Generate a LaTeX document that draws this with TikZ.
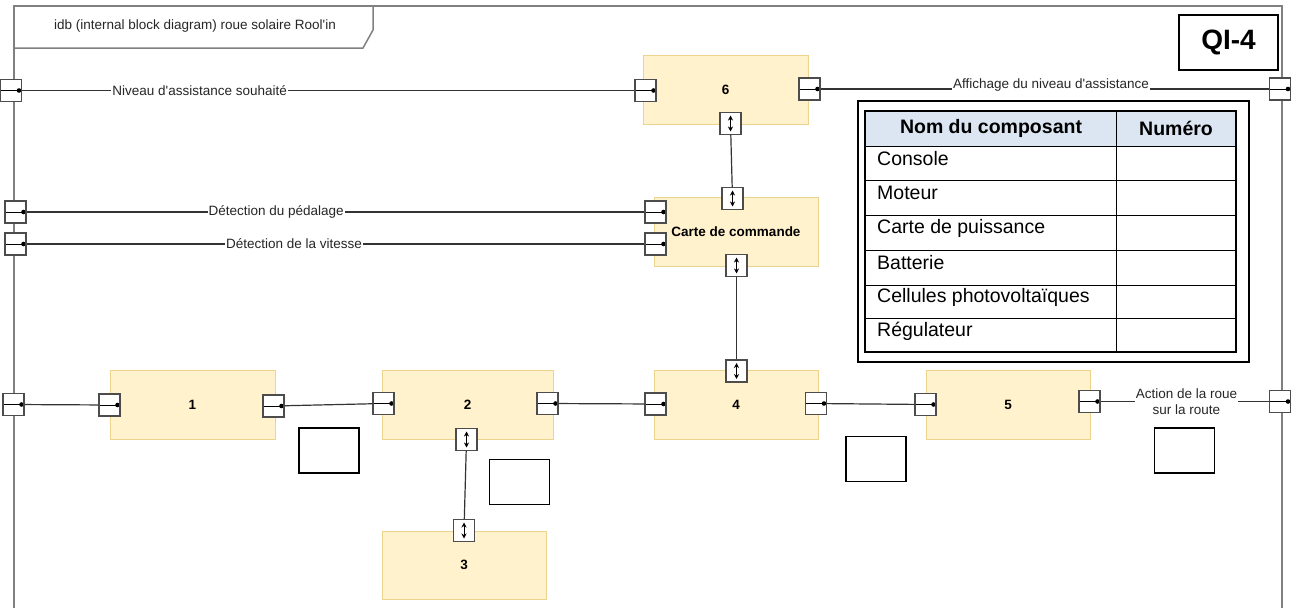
\documentclass[tikz,border=0pt]{standalone}
\usepackage{fontspec}
\setmainfont{Liberation Sans}[Ligatures=TeXOff]
\usepackage{tikz}
\usetikzlibrary{arrows.meta}
\definecolor{jaune}{HTML}{FFF2CC}
\definecolor{jauneb}{HTML}{EDD48E}
\definecolor{bleut}{HTML}{DCE6F2}

\tikzset{
  cadre/.style={draw=black!50, line width=1.5pt},
  bloc/.style={draw=jauneb, fill=jaune, line width=1pt, minimum width=165pt, minimum height=69pt,
    inner sep=0pt, font=\fontsize{13.5}{16}\selectfont\bfseries},
  portbase/.style={draw=black!70, fill=white, line width=1.2pt, minimum width=21pt, minimum height=22pt, inner sep=0pt},
  porth/.style={portbase, path picture={
    \draw[black, line width=.8pt] (path picture bounding box.west) -- (path picture bounding box.east);
    \fill[black] ([xshift=-2.5pt]path picture bounding box.east) circle (2.3pt);}},
  portv/.style={portbase, path picture={
    \draw[black, line width=.9pt, {Stealth[length=5pt, width=5pt]}-{Stealth[length=5pt, width=5pt]}]
      ([yshift=-3pt]path picture bounding box.north) -- ([yshift=3pt]path picture bounding box.south);}},
  fil/.style={draw=black!80, line width=1.2pt},
  lbl/.style={fill=white, inner sep=1pt, text=black!85, font=\fontsize{13.5}{16}\selectfont},
  vide/.style={draw=black, line width=1.2pt, minimum width=60pt, minimum height=45pt, inner sep=0pt},
  tabtxt/.style={font=\fontsize{19.5}{23}\selectfont, inner sep=0pt},
}

\begin{document}
\begin{tikzpicture}[x=1pt, y=-1pt]
\useasboundingbox (0,0) rectangle (1299,608);

\draw[cadre] (14,608) -- (14,6) -- (1282,6) -- (1282,608);
\draw[cadre] (14,48) -- (363,48) -- (373,30) -- (373,6);
\node[lbl, fill=none] (titre) at (195,26.5) {idb (internal block diagram) roue solaire Rool'in};

\node[draw, line width=1.2pt, minimum width=99pt, minimum height=55pt, inner sep=0pt,
  font=\fontsize{28}{32}\selectfont\bfseries] (qi) at (1228.5,42.5) {QI-4};

\node[bloc] (b6) at (725.5,89.5) {6};
\node[bloc, minimum width=164pt] (cmd) at (736,231.5) {Carte de commande};
\node[bloc] (b1) at (192.5,404.5) {1};
\node[bloc, minimum width=171pt] (b2) at (467.5,404.5) {2};
\node[bloc, minimum width=164pt] (b4) at (736,404.5) {4};
\node[bloc, minimum width=164pt] (b5) at (1008,404.5) {5};
\node[bloc, minimum width=164pt, minimum height=68pt] (b3) at (464,565) {3};

\node[porth] (fNiv) at (11,90.5) {};
\node[porth] (b6g) at (645.5,90.5) {};
\node[porth] (b6d) at (809.5,89) {};
\node[porth] (fAff) at (1280,89) {};
\node[portv] (b6b) at (730.5,123.5) {};
\node[portv] (cmdh) at (732.5,198.5) {};
\node[porth] (fPed) at (15.5,212) {};
\node[porth] (fVit) at (15.5,244) {};
\node[porth] (cmdP) at (655.5,212) {};
\node[porth] (cmdV) at (655.5,244) {};
\node[portv] (cmdb) at (736.5,265.5) {};
\node[portv] (b4h) at (736.5,371) {};
\node[porth] (fG) at (13.5,404.5) {};
\node[porth] (b1g) at (109.5,405) {};
\node[porth] (b1d) at (273.5,406) {};
\node[porth] (b2g) at (383.5,403.5) {};
\node[porth] (b2d) at (547.5,403.5) {};
\node[portv] (b2b) at (466.5,439.5) {};
\node[porth] (b4g) at (655.5,404) {};
\node[porth] (b4d) at (816,403.5) {};
\node[porth] (b5g) at (925.5,404.5) {};
\node[porth] (b5d) at (1089.5,401.5) {};
\node[porth] (fD) at (1280,401.5) {};
\node[portv] (b3h) at (464,530.5) {};

\draw[fil] (fNiv) -- node[lbl, pos=.29] {Niveau d'assistance souhaité} (b6g);
\draw[fil] (b6d) -- node[lbl, pos=.514, yshift=4pt] {Affichage du niveau d'assistance} (fAff);
\draw[fil] (b6b) -- (cmdh);
\draw[fil] (fPed) -- node[lbl, pos=.404] {Détection du pédalage} (cmdP);
\draw[fil] (fVit) -- node[lbl, pos=.433] {Détection de la vitesse} (cmdV);
\draw[fil] (cmdb) -- (b4h);
\draw[fil] (fG) -- (b1g);
\draw[fil] (b1d) -- (b2g);
\draw[fil] (b2d) -- (b4g);
\draw[fil] (b4d) -- (b5g);
\draw[fil] (b5d) -- node[lbl, pos=.51, align=center] {Action de la roue\\sur la route} (fD);
\draw[fil] (b2b) -- (b3h);

\node[vide] (r1) at (329,450.5) {};
\node[vide] (r2) at (519.5,482) {};
\node[vide] (r3) at (876,459) {};
\node[vide] (r4) at (1184.5,450.5) {};

\draw[line width=1.2pt] (858,101) rectangle (1249,362);
\fill[bleut] (865,111) rectangle (1236,146);
\draw[line width=1.2pt] (865,111) rectangle (1236,352);
\draw[line width=1pt] (1116,111) -- (1116,352);
\foreach \y in {146,180,215,250,285,318}
  \draw[line width=1pt] (865,\y) -- (1236,\y);
\node[tabtxt, font=\fontsize{19.5}{23}\selectfont\bfseries] (tNom) at (991,128) {Nom du composant};
\node[tabtxt, font=\fontsize{19.5}{23}\selectfont\bfseries] (tNum) at (1176,128) {Numéro};
\foreach \t/\y in {Console/159, Moteur/193, Carte de puissance/228, Batterie/263,
  Cellules photovoltaïques/297, Régulateur/331}
  \node[tabtxt, anchor=west] at (877,\y) {\t};
\end{tikzpicture}
\end{document}
